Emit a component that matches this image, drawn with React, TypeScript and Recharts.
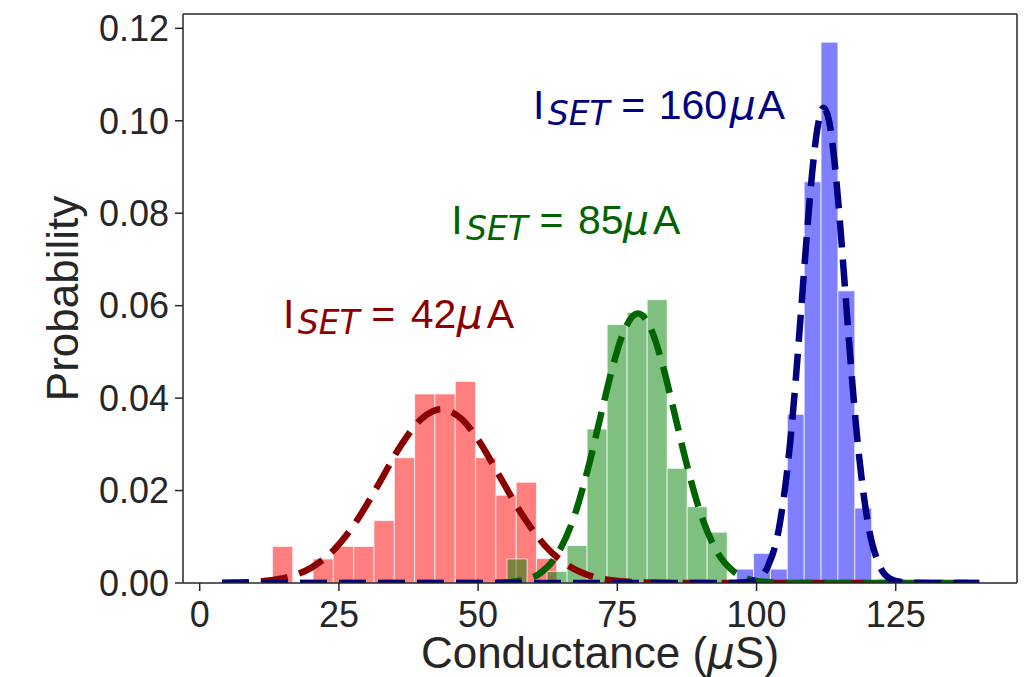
import { ComposedChart, Line, XAxis, YAxis, ReferenceArea, ReferenceLine } from 'recharts'

// histogram bins (conductance edges in uS) and probability per bin
const redEdges = [13.06, 16.71, 20.36, 24.0, 27.65, 31.3, 34.95, 38.6, 42.24, 45.89, 49.54, 53.19, 56.84, 60.48, 64.13]
const redProb = [0.0079, 0, 0.0052, 0.0079, 0.0079, 0.0135, 0.0271, 0.0409, 0.0409, 0.0436, 0.0271, 0.019, 0.0218, 0.0053]

const greenEdges = [55.19, 58.79, 62.38, 65.98, 69.57, 73.17, 76.76, 80.36, 83.95, 87.55, 91.14, 94.74]
const greenProb = [0.0052, 0, 0.0025, 0.0081, 0.0333, 0.0559, 0.0585, 0.0613, 0.0248, 0.0165, 0.011]

const blueEdges = [96.44, 99.47, 102.5, 105.53, 108.56, 111.59, 114.62, 117.65, 120.68]
const blueProb = [0.003, 0.0064, 0.003, 0.0365, 0.0868, 0.117, 0.0632, 0.0162]

// fitted curves
const redFitX = [4, 8, 12, 16, 20, 24, 28, 32, 36, 40, 43.4, 47, 50, 54, 58, 62, 66, 70, 74, 78, 82, 90, 140]
const redFitY = [0, 0.00014, 0.00047, 0.00133, 0.00328, 0.00705, 0.0131, 0.0211, 0.0295, 0.0357, 0.0376, 0.0355, 0.031, 0.0228, 0.0146, 0.0081, 0.0039, 0.0016, 0.00058, 0.00018, 0.00005, 0, 0]

const greenFitX = [4, 40, 50, 55, 58, 61, 64, 67, 70, 72, 74, 76, 78.7, 81, 83, 85, 87, 90, 93, 96, 99, 102, 106, 110, 140]
const greenFitY = [0, 0, 0.00001, 0.00014, 0.0006, 0.002, 0.0058, 0.0135, 0.026, 0.0361, 0.046, 0.0539, 0.0583, 0.0551, 0.0478, 0.0381, 0.0279, 0.0149, 0.0066, 0.0024, 0.0007, 0.0002, 0.00002, 0, 0]

const blueFitX = [4, 95, 98, 100, 102, 104, 106, 107, 108, 109, 110, 111, 112, 113, 114, 115, 116, 117, 118, 120, 122, 124, 126, 130, 140]
const blueFitY = [0, 0, 0.00014, 0.0008, 0.0035, 0.0116, 0.0299, 0.0433, 0.0589, 0.0747, 0.0888, 0.0988, 0.1028, 0.1001, 0.0912, 0.0778, 0.062, 0.0463, 0.0324, 0.013, 0.004, 0.0009, 0.0002, 0, 0]

const xTicks = [0, 25, 50, 75, 100, 125]
const yTicks = [0, 0.02, 0.04, 0.06, 0.08, 0.1, 0.12]
const xDomain = [-3.0, 146.78]
const yDomain = [0, 0.1231]

const toPoints = (xs: number[], ys: number[]) => xs.map((x, i) => ({ x, y: ys[i] }))

const axisColor = '#262626'
const sans = '"Liberation Sans", Arial, sans-serif'
const mathFont = '"DejaVu Sans", sans-serif'
const tickStyle = { fill: axisColor, fontSize: 36, fontFamily: sans }

function histogram(edges: number[], probs: number[], color: string, key: string) {
  return probs.map((p, i) =>
    p > 0 ? (
      <ReferenceArea
        key={`${key}-${i}`}
        x1={edges[i]}
        x2={edges[i + 1]}
        y1={0}
        y2={p}
        fill={color}
        fillOpacity={0.5}
        stroke="#ffffff"
        strokeOpacity={0.7}
        strokeWidth={1}
        ifOverflow="visible"
      />
    ) : null
  )
}

// x0 = left edge of the "I", offsets follow the mathtext spacing in the original
function Annotation({ x0, y, color, value, numDx, muDx, aDx }: {
  x0: number; y: number; color: string; value: string; numDx: number; muDx: number; aDx: number
}) {
  return (
    <text y={y} fill={color} fontSize={41} fontFamily={sans}>
      <tspan x={x0 - 3.8}>I</tspan>
      <tspan x={x0 + 11} fontFamily={mathFont} fontStyle="italic" fontSize={33} dy={6}>SET</tspan>
      <tspan x={x0 + 84.5} dy={-6}>=</tspan>
      <tspan x={x0 + numDx}>{value}</tspan>
      <tspan x={x0 + muDx} fontFamily={mathFont} fontStyle="italic">μ</tspan>
      <tspan x={x0 + aDx}>A</tspan>
    </text>
  )
}

export default function App() {
  return (
    <div style={{ position: 'absolute', left: 0, top: 0, width: 1035, height: 677, background: '#fff' }}>
      <ComposedChart width={1035} height={677} margin={{ top: 14, right: 18, bottom: 0, left: 0 }}>
        <XAxis
          type="number"
          dataKey="x"
          domain={xDomain}
          ticks={xTicks}
          allowDataOverflow
          height={94}
          tick={tickStyle}
          tickSize={8}
          tickMargin={10}
          stroke={axisColor}
          strokeWidth={1.5}
        />
        <YAxis
          type="number"
          domain={yDomain}
          ticks={yTicks}
          allowDataOverflow
          width={183}
          tick={tickStyle}
          tickSize={8}
          tickMargin={6}
          tickFormatter={(v: number) => v.toFixed(2)}
          stroke={axisColor}
          strokeWidth={1.5}
        />
        <ReferenceLine y={yDomain[1]} stroke={axisColor} strokeWidth={1.5} ifOverflow="visible" />
        <ReferenceLine x={xDomain[1]} stroke={axisColor} strokeWidth={1.5} ifOverflow="visible" />
        {histogram(redEdges, redProb, '#ff0000', 'r')}
        {histogram(greenEdges, greenProb, '#008000', 'g')}
        {histogram(blueEdges, blueProb, '#0000ff', 'b')}
        <Line data={toPoints(redFitX, redFitY)} dataKey="y" type="monotone" stroke="#8b0000" strokeWidth={6.5} strokeDasharray="27 12" dot={false} isAnimationActive={false} />
        <Line data={toPoints(greenFitX, greenFitY)} dataKey="y" type="monotone" stroke="#006400" strokeWidth={6.5} strokeDasharray="27 12" dot={false} isAnimationActive={false} />
        <Line data={toPoints(blueFitX, blueFitY)} dataKey="y" type="monotone" stroke="#000080" strokeWidth={6.5} strokeDasharray="27 12" dot={false} isAnimationActive={false} />
      </ComposedChart>
      <svg width={1035} height={677} style={{ position: 'absolute', left: 0, top: 0, pointerEvents: 'none' }}>
        <Annotation x0={286.7} y={328} color="#8b0000" value="42" numDx={124} muDx={170} aDx={200} />
        <Annotation x0={455} y={234} color="#006400" value="85" numDx={123} muDx={168} aDx={198} />
        <Annotation x0={536.7} y={119} color="#000080" value="160" numDx={122} muDx={193} aDx={221} />
        <text x={600} y={668} textAnchor="middle" fill={axisColor} fontSize={44} fontFamily={sans}>
          Conductance (<tspan fontFamily={mathFont} fontStyle="italic">μ</tspan>S)
        </text>
        <text x={78} y={298.5} transform="rotate(-90 78 298.5)" textAnchor="middle" fill={axisColor} fontSize={44} fontFamily={sans}>
          Probability
        </text>
      </svg>
    </div>
  )
}
